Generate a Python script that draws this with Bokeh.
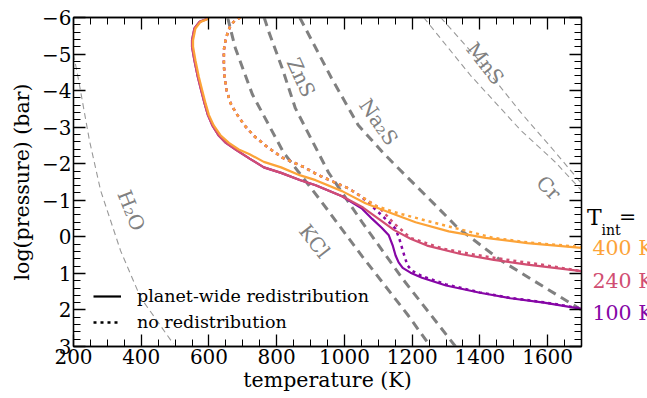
from bokeh.plotting import figure
from bokeh.layouts import row
from bokeh.models import Range1d, LinearAxis, SingleIntervalTicker, Label, Legend, LegendItem
from bokeh.embed import file_html
from bokeh.resources import INLINE

# ---------------- data ----------------
# planet-wide redistribution (solid)
t_400 = [600, 595, 575, 560, 553, 553, 560, 570, 580, 590, 600, 614, 634, 659, 688, 720, 762, 813, 870, 915, 993, 1062, 1131, 1210, 1308, 1417, 1540, 1700]
p_400 = [-6.0, -5.95, -5.88, -5.70, -5.38, -5.2, -4.83, -4.38, -4.01, -3.65, -3.33, -3.05, -2.78, -2.57, -2.39, -2.26, -2.05, -1.90, -1.68, -1.55, -1.25, -0.92, -0.67, -0.40, -0.15, 0.03, 0.17, 0.30]
t_240 = [597, 592, 572, 557, 550, 550, 557, 567, 577, 587, 597, 610, 628, 650, 680, 720, 762, 813, 870, 915, 993, 1055, 1100, 1146, 1195, 1244, 1343, 1441, 1540, 1700]
p_240 = [-6.0, -5.95, -5.88, -5.70, -5.38, -5.2, -4.83, -4.38, -4.01, -3.65, -3.33, -3.05, -2.78, -2.57, -2.38, -2.14, -1.90, -1.75, -1.55, -1.41, -1.11, -0.80, -0.50, -0.19, 0.05, 0.24, 0.47, 0.63, 0.76, 0.94]
t_100 = [597, 592, 572, 557, 550, 550, 557, 567, 577, 587, 597, 610, 628, 650, 680, 720, 762, 813, 870, 915, 993, 1052, 1082, 1110, 1131, 1143, 1151, 1160, 1172, 1195, 1229, 1300, 1400, 1490, 1589, 1700]
p_100 = [-6.0, -5.95, -5.88, -5.70, -5.38, -5.2, -4.83, -4.38, -4.01, -3.65, -3.33, -3.05, -2.78, -2.57, -2.38, -2.14, -1.90, -1.75, -1.55, -1.41, -1.11, -0.77, -0.49, -0.25, -0.04, 0.25, 0.51, 0.70, 0.85, 0.98, 1.12, 1.33, 1.53, 1.68, 1.80, 1.97]

# no redistribution (dotted)
t_400_nr = [693, 678, 664, 656, 649, 644, 644, 646, 652, 664, 681, 705, 733, 772, 818, 880, 920, 1013, 1047, 1092, 1146, 1170, 1259, 1357, 1441, 1540, 1700]
p_400_nr = [-6.0, -5.93, -5.79, -5.61, -5.38, -5.11, -4.74, -4.38, -4.01, -3.65, -3.37, -3.05, -2.76, -2.46, -2.16, -1.91, -1.70, -1.32, -1.12, -0.85, -0.68, -0.62, -0.40, -0.17, 0.03, 0.15, 0.28]
t_240_nr = [693, 678, 664, 656, 649, 644, 644, 646, 652, 664, 681, 705, 733, 772, 818, 880, 920, 1013, 1047, 1106, 1146, 1195, 1294, 1392, 1490, 1589, 1700]
p_240_nr = [-6.0, -5.93, -5.79, -5.61, -5.38, -5.11, -4.74, -4.38, -4.01, -3.65, -3.37, -3.05, -2.76, -2.46, -2.16, -1.91, -1.70, -1.32, -1.12, -0.77, -0.37, 0.03, 0.33, 0.50, 0.64, 0.77, 0.94]
t_100_nr = [693, 678, 664, 656, 649, 644, 644, 646, 652, 664, 681, 705, 733, 772, 818, 880, 920, 1013, 1047, 1080, 1111, 1140, 1151, 1162, 1170, 1178, 1186, 1200, 1230, 1300, 1400, 1490, 1589, 1700]
p_100_nr = [-6.0, -5.93, -5.79, -5.61, -5.38, -5.11, -4.74, -4.38, -4.01, -3.65, -3.37, -3.05, -2.76, -2.46, -2.16, -1.91, -1.70, -1.32, -1.12, -0.85, -0.58, -0.33, -0.22, 0.05, 0.30, 0.55, 0.78, 0.93, 1.08, 1.30, 1.52, 1.67, 1.79, 1.96]

# condensation curves
t_kcl = [655, 678, 728, 820, 929, 1053, 1189, 1254]
p_kcl = [-6.0, -5.16, -3.9, -2.31, -1.0, 0.54, 2.16, 3.0]
t_zns = [763, 777, 816, 855, 953, 1053, 1171, 1328]
p_zns = [-6.0, -5.6, -4.62, -3.52, -1.76, -0.39, 1.14, 3.0]
t_na2s = [868, 962, 1041, 1116, 1175, 1264, 1333, 1461, 1559, 1700]
p_na2s = [-6.0, -4.34, -3.05, -2.28, -1.73, -0.91, -0.26, 0.64, 1.20, 2.0]
t_mns = [1284, 1402, 1520, 1623, 1700]
p_mns = [-6.0, -4.78, -3.41, -2.31, -1.46]
t_cr = [1234, 1372, 1520, 1623, 1700]
p_cr = [-6.0, -4.42, -2.92, -2.04, -1.27]
t_h2o = [200, 215, 247, 280, 339, 398, 495]
p_h2o = [-5.0, -4.29, -2.64, -1.27, 0.38, 1.66, 2.93]

y_ticks = [-6, -5, -4, -3, -2, -1, 0, 1, 2, 3]
y_tick_labels = ["\u22126", "\u22125", "\u22124", "\u22123", "\u22122", "\u22121", "0", "1", "2", "3"]
tint_labels = ["400 K", "240 K", "100 K"]

# ---------------- styling ----------------
FONT = "DejaVu Serif"
C400 = "#fca338"
C240 = "#d14e72"
C100 = "#8606a6"
GRAY = "#808080"
TGRAY = "#999999"

yr = Range1d(3, -6)
p = figure(width=585, height=398, output_backend="svg", toolbar_location=None,
           x_range=Range1d(200, 1700), y_range=yr,
           min_border_left=73, min_border_right=4, min_border_top=17, min_border_bottom=52,
           x_axis_label="temperature (K)", y_axis_label="log(pressure) (bar)")
p.xgrid.visible = False
p.ygrid.visible = False
p.outline_line_color = "black"
p.outline_line_width = 1.3

p.add_layout(LinearAxis(), "above")
p.add_layout(LinearAxis(), "right")

for ax in p.xaxis:
    ax.ticker = SingleIntervalTicker(interval=200, num_minor_ticks=4)
for ax in p.yaxis:
    ax.ticker = SingleIntervalTicker(interval=1, num_minor_ticks=5)
for ax in p.axis:
    ax.major_tick_in = 12
    ax.major_tick_out = 0
    ax.minor_tick_in = 7
    ax.minor_tick_out = 0
    ax.major_tick_line_width = 1.3
    ax.minor_tick_line_width = 1.0
    ax.axis_line_width = 1.3
    ax.major_tick_line_color = "black"
    ax.minor_tick_line_color = "black"
    ax.axis_line_color = "black"
    ax.major_label_text_font = FONT
    ax.major_label_text_font_size = "20px"
    ax.major_label_text_color = "black"
    ax.axis_label_text_font = FONT
    ax.axis_label_text_font_size = "20.5px"
    ax.axis_label_text_font_style = "normal"
    ax.axis_label_text_color = "black"

# mirrored axes: ticks only
for ax in (p.above[0], p.right[0]):
    ax.major_label_text_font_size = "0px"
    ax.major_label_text_color = None
    ax.major_label_standoff = 0

p.below[0].major_label_standoff = 2
p.below[0].axis_label_standoff = 1
p.left[0].major_label_standoff = 2
p.left[0].axis_label_standoff = 5
p.left[0].major_label_overrides = {v: s for v, s in zip(y_ticks, y_tick_labels)}

# condensation curves
p.line(t_h2o, p_h2o, line_color=TGRAY, line_width=1.1, line_dash="6 4")
p.line(t_mns, p_mns, line_color=TGRAY, line_width=1.1, line_dash="6 4")
p.line(t_cr, p_cr, line_color=TGRAY, line_width=1.1, line_dash="6 4")
p.line(t_kcl, p_kcl, line_color=GRAY, line_width=3, line_dash="9 6")
p.line(t_zns, p_zns, line_color=GRAY, line_width=3, line_dash="9 6")
p.line(t_na2s, p_na2s, line_color=GRAY, line_width=3, line_dash="9 6")

# profiles
DOT = "3 4"
p.line(t_100_nr, p_100_nr, line_color=C100, line_width=2.5, line_dash=DOT)
p.line(t_240_nr, p_240_nr, line_color=C240, line_width=2.5, line_dash=DOT)
p.line(t_400_nr, p_400_nr, line_color=C400, line_width=2.5, line_dash=DOT)
p.line(t_100, p_100, line_color=C100, line_width=2.2)
p.line(t_240, p_240, line_color=C240, line_width=2.2)
p.line(t_400, p_400, line_color=C400, line_width=2.2)

# legend (black, hidden proxies)
r_solid = p.line(t_400, p_400, line_color="black", line_width=2.2, visible=False)
r_dot = p.line(t_400_nr, p_400_nr, line_color="black", line_width=2.5, line_dash=DOT, visible=False)
legend = Legend(items=[LegendItem(label="planet-wide redistribution", renderers=[r_solid]),
                       LegendItem(label="no redistribution", renderers=[r_dot])],
                location=(20, 14))
legend.label_text_font = FONT
legend.label_text_font_size = "17.5px"
legend.label_text_color = "black"
legend.glyph_width = 28
legend.glyph_height = 20
legend.label_height = 20
legend.label_standoff = 16
legend.spacing = 6
legend.padding = 0
legend.margin = 0
legend.background_fill_alpha = 0
legend.border_line_alpha = 0
legend.inactive_fill_alpha = 0
p.add_layout(legend)

# curve labels
def clabel(x, y, text, angle, size="20px"):
    p.add_layout(Label(x=x, y=y, text=text, angle=angle, angle_units="deg",
                       text_align="center", text_baseline="middle",
                       text_font=FONT, text_font_size=size, text_color=GRAY))

clabel(872, -4.36, "ZnS", -65)
clabel(1101, -3.14, "Na\u2082S", -55)
clabel(912, 0.12, "KCl", -52)
clabel(1416, -4.74, "MnS", -52)
clabel(1603, -1.34, "Cr", -45)
clabel(371, -0.72, "H\u2082O", -68)

# ---------------- side panel for the T_int key ----------------
q = figure(width=62, height=398, output_backend="svg", toolbar_location=None,
           x_range=Range1d(585, 647), y_range=yr, x_axis_type=None, y_axis_type=None,
           min_border_left=0, min_border_right=0, min_border_top=17, min_border_bottom=52)
q.outline_line_color = None
q.xgrid.visible = False
q.ygrid.visible = False

def tlabel(x, y, text, color, size="20.5px"):
    q.add_layout(Label(x=x, y=y, text=text, text_align="left", text_baseline="alphabetic",
                       text_font=FONT, text_font_size=size, text_color=color))

tlabel(586.5, -0.537, "T", "black", "22px")
tlabel(601, -0.192, "int", "black", "14px")
tlabel(618.5, -0.537, "=", "black", "20.5px")
tlabel(592, 0.292, tint_labels[0], C400)
tlabel(592, 1.195, tint_labels[1], C240)
tlabel(592, 2.097, tint_labels[2], C100)

layout = row(p, q)
open("out.html", "w").write(file_html(layout, INLINE))
